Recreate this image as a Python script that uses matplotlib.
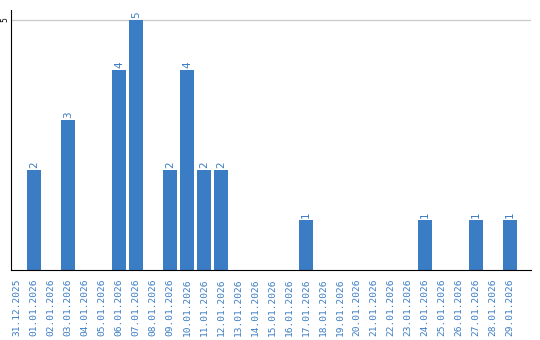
import matplotlib
matplotlib.use('Agg')
import matplotlib.pyplot as plt

dates = ['31.12.2025', '01.01.2026', '02.01.2026', '03.01.2026', '04.01.2026',
         '05.01.2026', '06.01.2026', '07.01.2026', '08.01.2026', '09.01.2026',
         '10.01.2026', '11.01.2026', '12.01.2026', '13.01.2026', '14.01.2026',
         '15.01.2026', '16.01.2026', '17.01.2026', '18.01.2026', '19.01.2026',
         '20.01.2026', '21.01.2026', '22.01.2026', '23.01.2026', '24.01.2026',
         '25.01.2026', '26.01.2026', '27.01.2026', '28.01.2026', '29.01.2026']
counts = [0, 2, 0, 3, 0, 0, 4, 5, 0, 2, 4, 2, 2, 0, 0,
          0, 0, 1, 0, 0, 0, 0, 0, 0, 1, 0, 0, 1, 0, 1]

blue = '#3b7dc4'

fig = plt.figure(figsize=(5.4, 3.4), dpi=100)
ax = fig.add_axes([11/540, 70/340, 520/540, 260/340])

x = list(range(len(dates)))
ax.bar(x, counts, width=0.8, color=blue, zorder=2)
for xi, c in zip(x, counts):
    if c > 0:
        ax.text(xi, c + 0.04, str(c), rotation=90, ha='center', va='bottom',
                color=blue, fontsize=7.5)

ax.set_xlim(-0.35, 30.24)
ax.set_ylim(0, 5.2)
ax.set_xticks(x)
ax.set_xticklabels(dates, rotation=90, color=blue, fontsize=6.8,
                   family='DejaVu Sans Mono')
ax.set_yticks([5])
ax.set_yticklabels(['5'], rotation=90, fontsize=5.5, va='center')
ax.tick_params(axis='x', length=0, pad=6)
ax.tick_params(axis='y', length=0, pad=1)
ax.yaxis.grid(True, color='#cccccc', lw=1, zorder=0)
for s in ['top', 'right']:
    ax.spines[s].set_visible(False)
ax.spines['left'].set_color('black')
ax.spines['bottom'].set_color('black')

fig.savefig('out.png', dpi=100)
